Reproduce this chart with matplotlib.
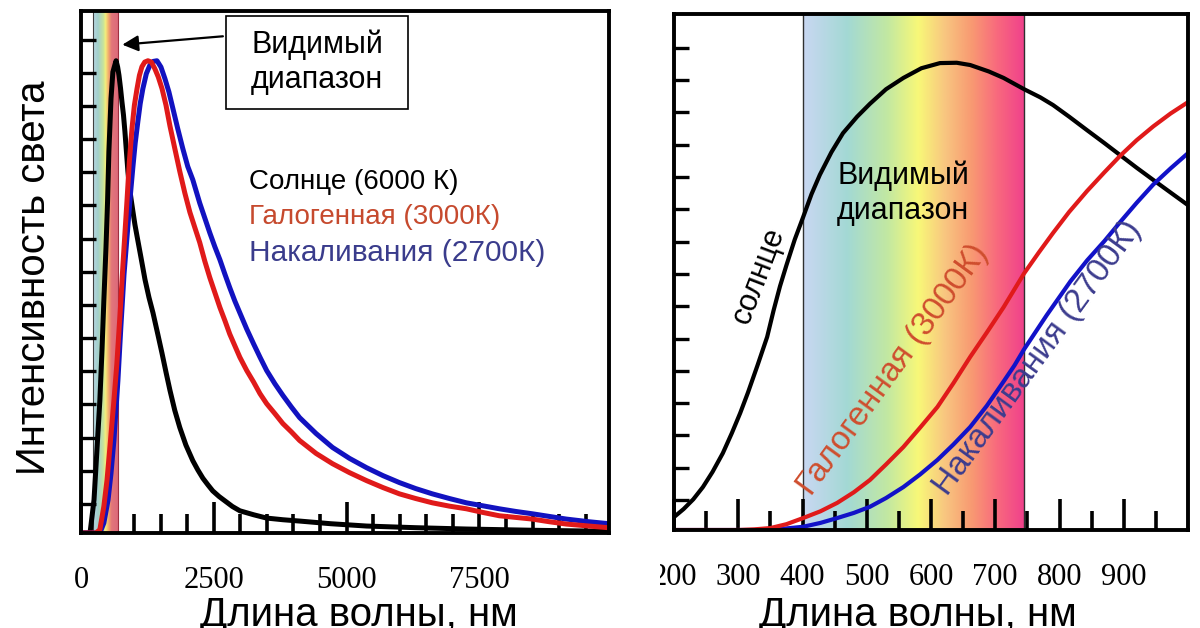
import numpy as np
import matplotlib
matplotlib.use('Agg')
import matplotlib.pyplot as plt
from matplotlib.colors import LinearSegmentedColormap
from matplotlib.patches import Rectangle

plt.rcParams['font.family'] = ['Liberation Sans', 'DejaVu Sans']

# ---- левый график: 0 - 10000 нм ----
sun_nm = [0, 170, 245, 300, 355, 395, 430, 470, 500, 525, 565, 600, 660, 690, 715, 745, 771, 800,
          827, 855, 883, 910, 940, 977, 1015, 1055, 1130, 1205, 1280, 1355, 1445, 1525, 1600,
          1675, 1765, 1860, 1975, 2105, 2200, 2295, 2390, 2480, 2600, 2725, 2850, 2990, 3250,
          3495, 3800, 4115, 4700, 5375, 6300, 7255, 8600, 10000]
sun_y = [0, 0, 1.0, 2.5, 4.0, 5.5, 7.0, 8.6, 10.0, 11.5, 13.1, 13.9, 14.24, 14.05, 13.8, 13.4,
         13.0, 12.6, 12.1, 11.5, 10.9, 10.45, 10.1, 9.7, 9.3, 8.95, 8.3, 7.64, 7.1, 6.64, 6.0,
         5.42, 4.85, 4.3, 3.7, 3.18, 2.65, 2.18, 1.9, 1.65, 1.45, 1.27, 1.1, 0.95, 0.8, 0.67,
         0.55, 0.45, 0.4, 0.36, 0.28, 0.21, 0.16, 0.12, 0.08, 0.05]

halo_nm = [0, 280, 355, 430, 490, 545, 620, 675, 735, 790, 865, 910, 960, 1005, 1055, 1100, 1147,
           1200, 1260, 1325, 1390, 1455, 1525, 1600, 1675, 1765, 1860, 1955, 2050, 2145, 2235,
           2330, 2425, 2520, 2615, 2710, 2800, 2895, 2990, 3120, 3250, 3370, 3495, 3650, 3800,
           3960, 4115, 4425, 4735, 5055, 5375, 5685, 5995, 6300, 6615, 6935, 7255, 7565, 7875,
           8185, 8495, 8815, 9135, 9560, 10000]
halo_y = [0, 0, 0.1, 0.8, 1.6, 2.6, 4.0, 5.1, 6.6, 8.1, 10.0, 11.2, 12.2, 12.9, 13.4, 13.8, 14.06,
          14.2, 14.24, 14.2, 14.0, 13.75, 13.4, 12.9, 12.27, 11.6, 10.9, 10.25, 9.67, 9.2, 8.76,
          8.2, 7.7, 7.25, 6.8, 6.4, 6.0, 5.65, 5.3, 4.9, 4.55, 4.2, 3.9, 3.6, 3.3, 3.05, 2.79,
          2.4, 2.09, 1.82, 1.58, 1.37, 1.18, 1.04, 0.91, 0.81, 0.73, 0.62, 0.52, 0.47, 0.42,
          0.34, 0.27, 0.21, 0.15]

inc_nm = [0, 355, 430, 510, 565, 620, 695, 750, 810, 885, 930, 975, 1020, 1070, 1115, 1165, 1230,
          1295, 1360, 1430, 1505, 1580, 1655, 1730, 1820, 1915, 2010, 2105, 2235, 2330, 2425,
          2520, 2615, 2710, 2800, 2895, 2990, 3120, 3250, 3370, 3495, 3650, 3800, 3960, 4115,
          4425, 4735, 5055, 5375, 5685, 5995, 6300, 6615, 6935, 7255, 7565, 7875, 8185, 8495,
          8815, 9135, 9560, 10000]
inc_y = [0, 0, 0.3, 1.0, 1.8, 2.8, 4.6, 6.2, 7.8, 9.3, 10.2, 11.0, 11.75, 12.4, 12.95, 13.4, 13.85,
         14.1, 14.22, 14.24, 14.05, 13.7, 13.3, 12.8, 12.2, 11.6, 11.05, 10.65, 9.95, 9.5, 9.05,
         8.63, 8.24, 7.8, 7.4, 7.0, 6.64, 6.15, 5.7, 5.3, 4.9, 4.5, 4.15, 3.8, 3.48, 3.0, 2.58,
         2.25, 1.97, 1.73, 1.52, 1.34, 1.18, 1.04, 0.91, 0.82, 0.73, 0.65, 0.58, 0.5, 0.42,
         0.34, 0.27]

# ---- правый график: 200 - 1000 нм ----
sun2_nm = [200, 215, 230, 245, 260, 276, 290, 303, 315, 330, 345, 355, 365, 375, 388, 401, 414,
           427, 445, 463, 485, 505, 530, 557, 585, 614, 640, 661, 690, 713, 745, 770, 790, 815,
           843, 870, 895, 920, 946, 975, 1000]
sun2_y = [0.4, 0.65, 0.95, 1.33, 1.8, 2.38, 3.0, 3.62, 4.25, 5.1, 5.98, 6.8, 7.55, 8.2, 9.0, 9.69,
          10.4, 11.0, 11.7, 12.29, 12.8, 13.2, 13.65, 14.0, 14.3, 14.46, 14.47, 14.4, 14.2, 14.0,
          13.65, 13.4, 13.16, 12.8, 12.38, 11.98, 11.6, 11.22, 10.84, 10.42, 10.06]

halo2_nm = [200, 300, 325, 350, 375, 401, 428, 454, 480, 505, 530, 557, 583, 610, 635, 661, 687,
            713, 745, 768, 790, 815, 843, 870, 895, 920, 946, 973, 1000]
halo2_y = [0, 0, 0.02, 0.06, 0.18, 0.37, 0.58, 0.84, 1.17, 1.55, 2.03, 2.57, 3.17, 3.81, 4.55,
           5.36, 6.12, 6.9, 7.95, 8.6, 9.2, 9.85, 10.5, 11.08, 11.6, 12.07, 12.5, 12.9, 13.25]

inc2_nm = [200, 330, 365, 401, 428, 454, 480, 505, 530, 557, 583, 610, 635, 661, 687, 713, 730,
           745, 780, 817, 843, 870, 895, 920, 946, 973, 1000]
inc2_y = [0, 0, 0.03, 0.1, 0.22, 0.37, 0.53, 0.72, 0.99, 1.33, 1.72, 2.17, 2.65, 3.19, 3.85, 4.6,
          5.1, 5.6, 6.65, 7.7, 8.35, 8.95, 9.55, 10.13, 10.7, 11.2, 11.67]

vis_left = [225, 695]
vis_right = [400, 745]

left_ticks = [0, 2500, 5000, 7500]
right_ticks = [200, 300, 400, 500, 600, 700, 800, 900]

cm_left = LinearSegmentedColormap.from_list('vis1', [(0, '#b9d6e2'), (0.2, '#a2d0cc'),
                                                     (0.42, '#c8e49a'), (0.5, '#f4ef7c'),
                                                     (0.62, '#f2ad6c'), (0.74, '#e3777a'),
                                                     (1, '#dc6a7a')])
cm_right = LinearSegmentedColormap.from_list('vis2', [(0, '#c9d7f2'), (0.2, '#a3d9d4'),
                                                      (0.38, '#c2e8a2'), (0.52, '#f8f878'),
                                                      (0.64, '#f8c680'), (0.76, '#f89a72'),
                                                      (0.88, '#f8687e'), (1, '#f0408c')])

fig = plt.figure(figsize=(12, 6.28), dpi=100)
ax1 = fig.add_axes([81/1200, 95/628, 528/1200, 522/628])
ax2 = fig.add_axes([674/1200, 98/628, 514/1200, 516/628])

grad = np.linspace(0, 1, 256).reshape(1, -1)

# левый
ax1.imshow(grad, cmap=cm_left, aspect='auto', extent=[vis_left[0], vis_left[1], 0, 16], zorder=1)
ax1.axvline(vis_left[0], color='#404040', lw=0.8, zorder=1.5)
ax1.axvline(vis_left[1], color='#a03040', lw=0.8, zorder=1.5)
ax1.plot(sun_nm, sun_y, color='black', lw=3.6, zorder=3)
ax1.plot(inc_nm, inc_y, color='#1212c0', lw=3.6, zorder=3)
ax1.plot(halo_nm, halo_y, color='#e01a1a', lw=3.6, zorder=3)
ax1.set_xlim(0, 9940)
ax1.set_ylim(0, 15.74)
ax1.set_xticks(left_ticks)
ax1.set_xticks(np.arange(1000, 9940, 500), minor=True)
ax1.set_yticks(0.876 + np.arange(15))
ax1.set_yticklabels([])

ax1.add_patch(Rectangle((0.274, 0.812), 0.346, 0.178, transform=ax1.transAxes,
                        facecolor='white', edgecolor='black', lw=1.2, zorder=4))
ax1.text(0.447, 0.902, 'Видимый\nдиапазон', transform=ax1.transAxes, ha='center', va='center',
         fontsize=22, zorder=5)
ax1.annotate('', xy=(0.073, 0.935), xycoords='axes fraction', xytext=(0.274, 0.952),
             textcoords='axes fraction',
             arrowprops=dict(arrowstyle='-|>', color='black', lw=1.6, mutation_scale=24),
             zorder=5)

ax1.text(0.318, 0.673, 'Солнце (6000 К)', transform=ax1.transAxes, fontsize=20, va='center',
         color='black')
ax1.text(0.318, 0.606, 'Галогенная (3000К)', transform=ax1.transAxes, fontsize=20, va='center',
         color='#c64a2e')
ax1.text(0.318, 0.537, 'Накаливания (2700К)', transform=ax1.transAxes, fontsize=21.5,
         va='center', color='#3a3c8c')

# правый
ax2.imshow(grad, cmap=cm_right, aspect='auto', extent=[vis_right[0], vis_right[1], 0, 16], zorder=1)
ax2.axvline(vis_right[0], color='#303030', lw=1.0, zorder=1.5)
ax2.axvline(vis_right[1], color='#303030', lw=1.0, zorder=1.5)
ax2.plot(sun2_nm, sun2_y, color='black', lw=3.0, zorder=3)
ax2.plot(inc2_nm, inc2_y, color='#1212c8', lw=3.0, zorder=3)
ax2.plot(halo2_nm, halo2_y, color='#e01a1a', lw=3.0, zorder=3)
ax2.set_xlim(200, 1000)
ax2.set_ylim(0, 15.98)
ax2.set_xticks(right_ticks)
ax2.set_xticks(np.arange(250, 1000, 100), minor=True)
ax2.set_yticks(0.93 + np.arange(15))
ax2.set_yticklabels([])

ax2.text(0.446, 0.653, 'Видимый\nдиапазон', transform=ax2.transAxes, ha='center', va='center',
         fontsize=22, zorder=5)
ax2.text(0.164, 0.493, 'солнце', transform=ax2.transAxes, ha='center', va='center',
         rotation=69, rotation_mode='anchor', fontsize=22, zorder=5)
ax2.text(0.427, 0.31, 'Галогенная (3000К)', transform=ax2.transAxes, ha='center', va='center',
         rotation=54, rotation_mode='anchor', fontsize=24, color='#cf4e2e', zorder=5)
ax2.text(0.707, 0.333, 'Накаливания (2700К)', transform=ax2.transAxes, ha='center', va='center',
         rotation=54, rotation_mode='anchor', fontsize=24, color='#3c3c8e', zorder=5)

for ax in (ax1, ax2):
    for s in ax.spines.values():
        s.set_linewidth(2.8)
        s.set_zorder(4)
    ax.tick_params(axis='x', which='major', direction='in', length=22, width=2.6, pad=24,
                   labelsize=22, labelfontfamily='Liberation Serif')
    ax.tick_params(axis='x', which='minor', direction='in', length=14, width=2.6)
    ax.tick_params(axis='y', which='major', direction='in', length=11, width=2.4)

fig.text(34/1200, 1 - 278/628, 'Интенсивность света', rotation=90, ha='center', va='center',
         fontsize=29)
fig.text(359/1200, 1 - 626/628, 'Длина волны, нм', ha='center', va='baseline', fontsize=29)
fig.text(918/1200, 1 - 626/628, 'Длина волны, нм', ha='center', va='baseline', fontsize=29)

# граница между картинками обрезает подпись "200"
fig.add_artist(Rectangle((620/1200, 25/628), 40/1200, 55/628, transform=fig.transFigure,
                         facecolor='white', edgecolor='none', zorder=10))

fig.savefig('out.png', dpi=100)
